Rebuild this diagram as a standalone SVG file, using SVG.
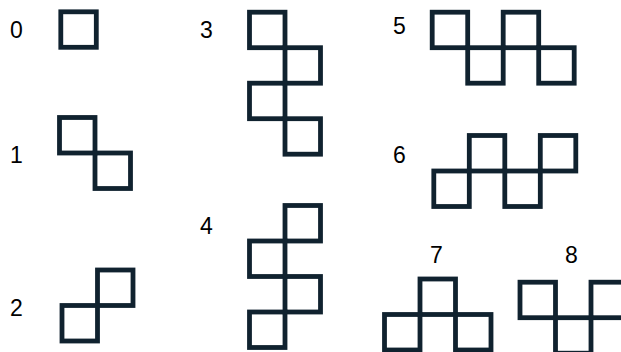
<svg xmlns="http://www.w3.org/2000/svg" width="621" height="352" viewBox="0 0 621 352">
<style>
.sq{fill:none;stroke:#10222f;stroke-width:4.8}
.lb{font-family:"Liberation Sans",Arial,sans-serif;font-size:23px;fill:#000}
</style>
<defs><rect id="s" class="sq" width="35.5" height="35.5"/></defs>
<rect width="621" height="352" fill="#fff"/>
<g id="fig0"><text class="lb" x="10" y="37.5">0</text><use href="#s" x="60.8" y="11.8"/></g>
<g id="fig1"><text class="lb" x="10" y="162.5">1</text><use href="#s" x="59.5" y="117.5"/><use href="#s" x="95" y="153"/></g>
<g id="fig2"><text class="lb" x="10" y="315.5">2</text><use href="#s" x="97.5" y="270"/><use href="#s" x="62" y="305.5"/></g>
<g id="fig3"><text class="lb" x="200" y="37.5">3</text><use href="#s" x="249.5" y="12.2"/><use href="#s" x="285" y="47.7"/><use href="#s" x="249.5" y="83.2"/><use href="#s" x="285" y="118.7"/></g>
<g id="fig4"><text class="lb" x="200" y="233.5">4</text><use href="#s" x="285" y="205.5"/><use href="#s" x="249.5" y="241"/><use href="#s" x="285" y="276.5"/><use href="#s" x="249.5" y="312"/></g>
<g id="fig5"><text class="lb" x="393" y="33.5">5</text><use href="#s" x="432.2" y="12.2"/><use href="#s" x="467.7" y="47.7"/><use href="#s" x="503.2" y="12.2"/><use href="#s" x="538.7" y="47.7"/></g>
<g id="fig6"><text class="lb" x="393" y="162.5">6</text><use href="#s" x="433.8" y="171"/><use href="#s" x="469.3" y="135.5"/><use href="#s" x="504.8" y="171"/><use href="#s" x="540.3" y="135.5"/></g>
<g id="fig7"><text class="lb" x="430" y="262.5">7</text><use href="#s" x="420" y="279"/><use href="#s" x="384.5" y="314.5"/><use href="#s" x="455.5" y="314.5"/></g>
<g id="fig8"><text class="lb" x="565" y="262.5">8</text><use href="#s" x="520" y="282.2"/><use href="#s" x="555.5" y="317.7"/><use href="#s" x="591" y="282.2"/></g>
<g id="connectors"/>
</svg>
